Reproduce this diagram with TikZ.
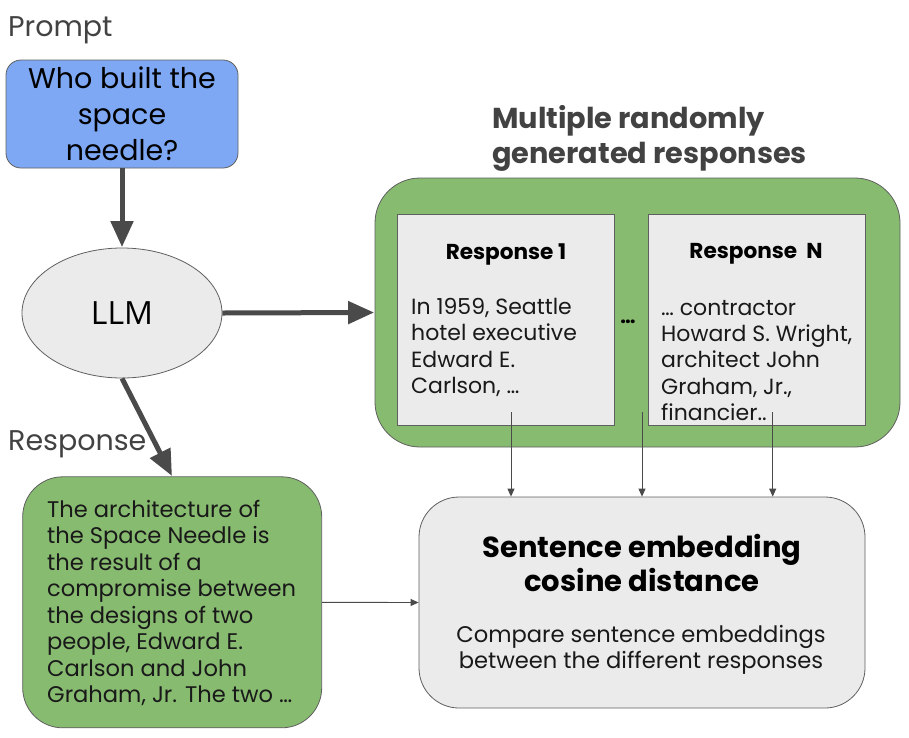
\documentclass[tikz,border=0pt]{standalone}
\usepackage{fontspec}
\setmainfont{Poppins}
\newfontfamily\llmfont{Open Sans}
\usepackage{tikz}
\usetikzlibrary{positioning, arrows.meta, calc, shapes.geometric}
\usepackage{xcolor}
\definecolor{prompt-blue}{HTML}{7EA8F4}
\definecolor{resp-green}{HTML}{87BB70}
\definecolor{box-gray}{HTML}{EBEBEB}
\definecolor{edge-gray}{HTML}{5F5F5F}
\definecolor{arrow-gray}{HTML}{4A4A4A}
\definecolor{label-gray}{HTML}{424242}

\tikzset{
	box/.style={draw=edge-gray, line width=0.8pt, inner sep=0pt},
	heavy/.style={-{Triangle[length=26pt,width=22pt]}, line width=5pt, arrow-gray, shorten >=0.5pt},
	light/.style={-{Triangle[length=8pt,width=7pt]}, line width=0.9pt, arrow-gray},
	body/.style={align=left, inner sep=0pt, font=\fontsize{22}{26.4}\selectfont, text=black!90},
}

\begin{document}
\begin{tikzpicture}[x=1pt, y=-1pt]
						\useasboundingbox (0,0) rectangle (909,737);
						\node[box, rounded corners=15pt, fill=prompt-blue, minimum width=232pt, minimum height=108pt, align=center,
							font=\fontsize{28.5}{36}\selectfont] (prompt) at (122,114) {Who built the\\space\\needle?};
						\node[box, ellipse, fill=box-gray, minimum width=200pt, minimum height=130pt,
							font=\llmfont\fontsize{32}{36}\selectfont] (llm) at (122,313) {LLM};
						\node[box, rounded corners=45pt, fill=resp-green, minimum width=525pt, minimum height=269pt] (group) at (637.5,312.5) {};
						\node[box, fill=box-gray, minimum width=216.6pt, minimum height=211.4pt] (resp1) at (506,320) {};
						\node[box, fill=box-gray, minimum width=216.6pt, minimum height=211.4pt] (respN) at (756.7,320) {};
						\node[box, rounded corners=40pt, fill=resp-green, minimum width=299pt, minimum height=251pt] (answer) at (172.2,602.3) {};
						\node[box, rounded corners=40pt, fill=box-gray, minimum width=446pt, minimum height=211pt] (cosine) at (642,602.5) {};
						% labels and texts
						\node[anchor=west, inner sep=0pt, text=label-gray, font=\fontsize{28.5}{30}\selectfont] (promptlabel) at (8,30) {Prompt};
						\node[anchor=west, inner sep=0pt, text=label-gray, font=\fontsize{28.5}{30}\selectfont] (resplabel) at (8,444) {Response};
						\node[anchor=west, align=left, inner sep=0pt, text=label-gray, font=\bfseries\fontsize{28.8}{35}\selectfont] (title) at (492,138.5) {Multiple randomly\\generated responses};
						\node[inner sep=0pt, font=\bfseries\fontsize{21.6}{24}\selectfont] (title1) at (506,254) {Response 1};
						\node[inner sep=0pt, font=\bfseries\fontsize{21.6}{24}\selectfont] (titleN) at (756,254) {Response\ \ N};
						\node[body, anchor=west] (text1) at (411,347.5) {In 1959, Seattle\\hotel executive\\Edward E.\\Carlson, \dots};
						\node[body, anchor=west] (textN) at (661,360.5) {\dots{} contractor\\Howard S. Wright,\\architect John\\Graham, Jr.,\\financier..};
						\node[inner sep=0pt, font=\bfseries\fontsize{20}{24}\selectfont] (dots) at (628,322) {\dots};
						\node[body, anchor=west, font=\fontsize{22.6}{26.5}\selectfont] (answertext) at (47,603) {The architecture of\\the Space Needle is\\the result of a\\compromise between\\the designs of two\\people, Edward E.\\Carlson and John\\Graham, Jr. The two \dots};
						\node[inner sep=0pt, align=center, font=\bfseries\fontsize{29}{34}\selectfont] (cosinetitle) at (642,563) {Sentence embedding\\cosine distance};
						\node[inner sep=0pt, align=center, font=\fontsize{22.6}{26}\selectfont, text=black!90] (cosinetext) at (641,650) {Compare sentence embeddings\\between the different responses};
						\coordinate (gap) at (642,412);
						\draw
						(prompt) edge[heavy] (llm)
						(llm.east) edge[heavy] (group.west)
						(llm.south) edge[heavy] (answer.north)
						(answer.east) edge[light] (cosine.west)
						([xshift=5pt, yshift=14pt]resp1.south) edge[light] ([xshift=5pt]resp1.south |- cosine.north)
						(gap) edge[light] (cosine.north)
						([xshift=16pt, yshift=14pt]respN.south) edge[light] ([xshift=16pt]respN.south |- cosine.north);
					\end{tikzpicture}
\end{document}
